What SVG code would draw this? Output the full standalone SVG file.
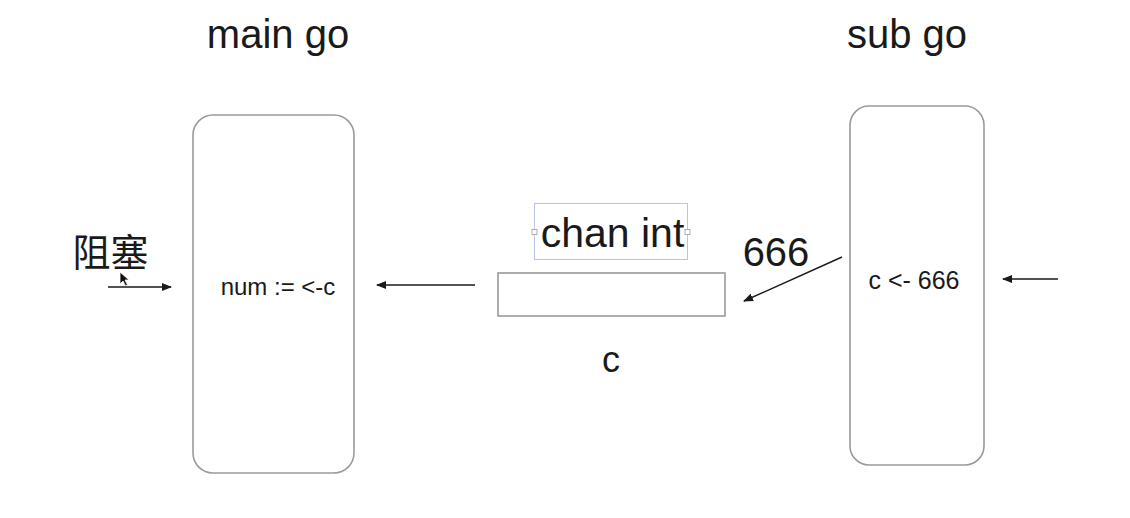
<svg xmlns="http://www.w3.org/2000/svg" width="1130" height="518" viewBox="0 0 1130 518">
<defs>
<style>
.t{font-family:"Liberation Sans",Arial,"Noto Sans CJK SC",sans-serif;fill:#1a1a1a}
.box{fill:#fff;stroke:#9a9a9a;stroke-width:1.6}
.ln{stroke:#1a1a1a;stroke-width:1.4;fill:none;marker-end:url(#ah)}
</style>
<marker id="ah" viewBox="0 0 10 8" refX="9" refY="4" markerWidth="10" markerHeight="8" markerUnits="userSpaceOnUse" orient="auto">
<path d="M0,0 L10,4 L0,8 z" fill="#1a1a1a"/>
</marker>
</defs>
<rect width="1130" height="518" fill="#fff"/>
<g id="main-go">
<text class="t" x="278" y="48" font-size="40" text-anchor="middle">main go</text>
<rect class="box" x="193" y="115" width="161" height="358" rx="20"/>
<text class="t" x="278" y="295" font-size="24" text-anchor="middle">num := &lt;-c</text>
</g>
<g id="sub-go">
<text class="t" x="907" y="48" font-size="40" text-anchor="middle">sub go</text>
<rect class="box" x="850" y="106" width="134" height="359" rx="19"/>
<text class="t" x="914" y="289" font-size="25" text-anchor="middle">c &lt;- 666</text>
</g>
<g id="channel">
<rect x="534.5" y="203.5" width="153" height="56" fill="none" stroke="#b8c4e6" stroke-width="1"/>
<rect x="532" y="229.5" width="5" height="5" fill="#fff" stroke="#999" stroke-width="0.8"/>
<rect x="685" y="229.5" width="5" height="5" fill="#fff" stroke="#999" stroke-width="0.8"/>
<text class="t" x="612.5" y="247" font-size="41" text-anchor="middle">chan int</text>
<rect class="box" x="498" y="273" width="227" height="43"/>
<text class="t" x="611" y="372" font-size="36" text-anchor="middle">c</text>
</g>
<g id="label-666">
<text class="t" x="776" y="266" font-size="40" text-anchor="middle">666</text>
</g>
<g id="label-block">
<text class="t" x="110.5" y="266" font-size="38" text-anchor="middle">阻塞</text>
<path d="M120,272 L120,284 L123,281 L125.5,286 L127.5,285 L125,280 L129,280 Z" fill="#111" stroke="#fff" stroke-width="0.8"/>
</g>
<g id="connectors">
<line class="ln" x1="108" y1="287" x2="171" y2="287"/>
<line class="ln" x1="475" y1="285" x2="377" y2="285"/>
<line class="ln" x1="842" y1="257" x2="744" y2="301"/>
<line class="ln" x1="1058" y1="279" x2="1003" y2="279"/>
</g>
</svg>
